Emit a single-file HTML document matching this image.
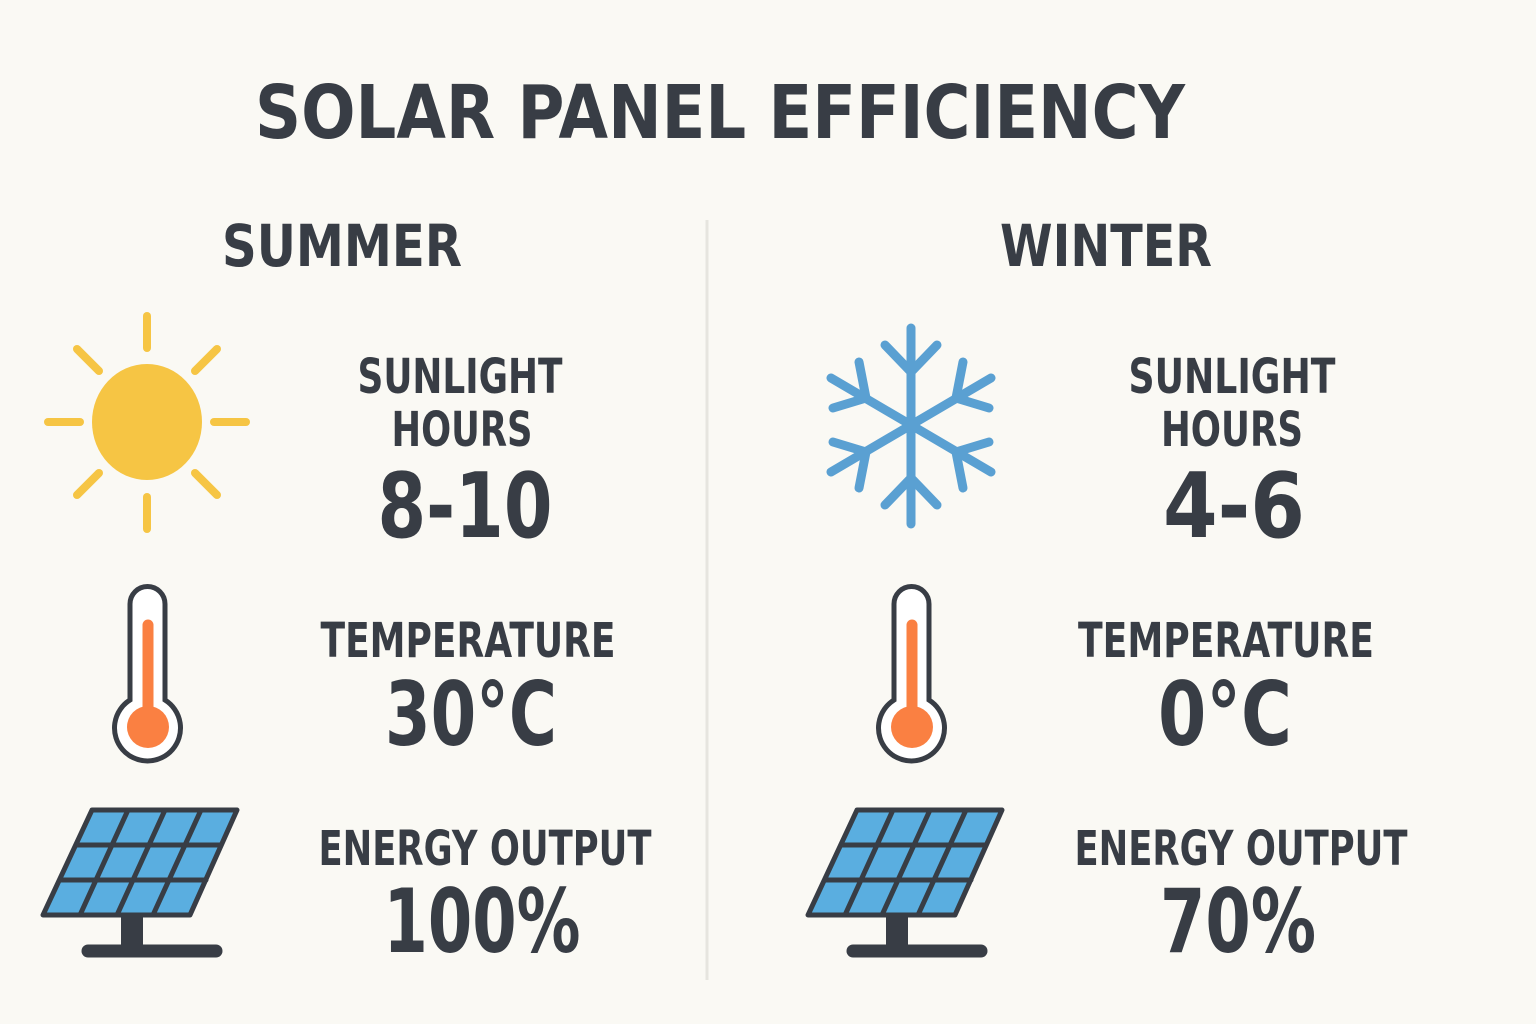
<!DOCTYPE html>
<html><head><meta charset="utf-8"><style>
html,body{margin:0;padding:0;background:#faf9f4;}
svg{display:block}
text{font-family:"DejaVu Sans","Liberation Sans",sans-serif;font-weight:bold;fill:#383d45;text-anchor:middle}
</style></head><body>
<svg width="1536" height="1024" viewBox="0 0 1536 1024" xmlns="http://www.w3.org/2000/svg">
<rect width="1536" height="1024" fill="#faf9f4"/>
<text x="720" y="138" font-size="74" textLength="930" lengthAdjust="spacingAndGlyphs">SOLAR PANEL EFFICIENCY</text>
<text x="342" y="266" font-size="58" textLength="240" lengthAdjust="spacingAndGlyphs">SUMMER</text>
<text x="1106" y="266" font-size="58" textLength="212" lengthAdjust="spacingAndGlyphs">WINTER</text>
<line x1="707" y1="220" x2="707" y2="980" stroke="#e6e5df" stroke-width="3"/>

<!-- summer text -->
<text x="460" y="393" font-size="48" textLength="205" lengthAdjust="spacingAndGlyphs">SUNLIGHT</text>
<text x="462" y="446" font-size="48" textLength="141" lengthAdjust="spacingAndGlyphs">HOURS</text>
<text x="465" y="537" font-size="90" textLength="175" lengthAdjust="spacingAndGlyphs">8-10</text>
<text x="468" y="657" font-size="48" textLength="295" lengthAdjust="spacingAndGlyphs">TEMPERATURE</text>
<text x="471" y="745" font-size="88" textLength="172" lengthAdjust="spacingAndGlyphs">30°C</text>
<text x="485" y="865" font-size="48" textLength="333" lengthAdjust="spacingAndGlyphs">ENERGY OUTPUT</text>
<text x="482" y="952" font-size="88" textLength="197" lengthAdjust="spacingAndGlyphs">100%</text>
<!-- winter text -->
<text x="1232" y="393" font-size="48" textLength="207" lengthAdjust="spacingAndGlyphs">SUNLIGHT</text>
<text x="1232" y="446" font-size="48" textLength="142" lengthAdjust="spacingAndGlyphs">HOURS</text>
<text x="1234" y="537" font-size="90" textLength="142" lengthAdjust="spacingAndGlyphs">4-6</text>
<text x="1226" y="657" font-size="48" textLength="296" lengthAdjust="spacingAndGlyphs">TEMPERATURE</text>
<text x="1225" y="745" font-size="88" textLength="134" lengthAdjust="spacingAndGlyphs">0°C</text>
<text x="1241" y="865" font-size="48" textLength="333" lengthAdjust="spacingAndGlyphs">ENERGY OUTPUT</text>
<text x="1238" y="952" font-size="88" textLength="156" lengthAdjust="spacingAndGlyphs">70%</text>

<!-- sun -->
<g stroke="#f6c544" stroke-width="8" stroke-linecap="round">
<line x1="147" y1="316" x2="147" y2="348"/><line x1="147" y1="497" x2="147" y2="529"/>
<line x1="48" y1="422" x2="80" y2="422"/><line x1="214" y1="422" x2="246" y2="422"/>
<line x1="77" y1="349" x2="99" y2="371"/><line x1="195" y1="473" x2="217" y2="495"/>
<line x1="217" y1="349" x2="195" y2="371"/><line x1="99" y1="473" x2="77" y2="495"/>
</g>
<ellipse cx="147" cy="422" rx="55" ry="58" fill="#f6c544"/>

<!-- snowflake -->
<g stroke="#5aa0d2" stroke-width="9" stroke-linecap="round" fill="none">
<line x1="911" y1="328" x2="911" y2="524"/>
<line x1="831" y1="378" x2="991" y2="472"/>
<line x1="831" y1="472" x2="991" y2="378"/>
<polyline points="885,345 911,372 937,345"/><polyline points="885,505 911,478 937,505"/>
<polyline points="859,362 866,398 833,408"/><polyline points="963,362 956,398 989,408"/>
<polyline points="833,442 866,452 859,488"/><polyline points="989,442 956,452 963,488"/>
</g>

<!-- thermometers -->
<g id="th">
<path d="M130,604 a17.5,17.5 0 0 1 35,0 V700 a33,33 0 1 1 -35,0 Z" fill="#fff" stroke="#383d45" stroke-width="5"/>
<line x1="148" y1="625" x2="148" y2="715" stroke="#fa8042" stroke-width="11" stroke-linecap="round"/>
<circle cx="148" cy="727" r="21" fill="#fa8042"/>
</g>
<use href="#th" transform="translate(764,0)"/>

<!-- panels -->
<g id="pn" stroke="#383d45" stroke-linecap="round" stroke-linejoin="round">
<rect x="121" y="912" width="22" height="36" fill="#383d45" stroke="none"/>
<line x1="88" y1="951" x2="216" y2="951" stroke-width="13"/>
<polygon points="92,810 237,810 190,915 43,915" fill="#5aaee0" stroke-width="5"/>
<g stroke-width="5">
<line x1="76" y1="845" x2="221" y2="845"/><line x1="60" y1="880" x2="206" y2="880"/>
<line x1="128" y1="810" x2="80" y2="915"/><line x1="165" y1="810" x2="117" y2="915"/><line x1="201" y1="810" x2="153" y2="915"/>
</g>
</g>
<use href="#pn" transform="translate(765,0)"/>
</svg>
</body></html>
